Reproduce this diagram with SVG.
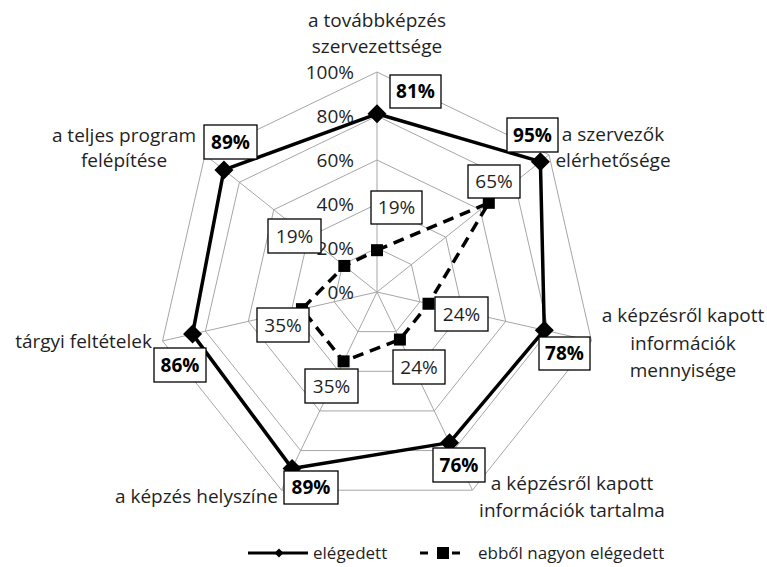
<svg xmlns="http://www.w3.org/2000/svg" width="767" height="567" viewBox="0 0 767 567">
<style>
.grid{fill:none;stroke:#a6a6a6;stroke-width:1}
.lbl{font-family:"Open Sans","Noto Sans","Liberation Sans",sans-serif;font-size:19px;fill:#1f1f1f}
.tick{font-family:"Open Sans","Noto Sans","Liberation Sans",sans-serif;font-size:19px;fill:#1f1f1f;text-anchor:end}
.dl{font-family:"Open Sans","Noto Sans","Liberation Sans",sans-serif;font-size:19px;fill:#1f1f1f;text-anchor:middle}
.dlb{font-family:"Open Sans","Noto Sans","Liberation Sans",sans-serif;font-size:19px;font-weight:bold;fill:#000;text-anchor:middle}
.box{fill:#fff;stroke:#000;stroke-width:1.3}
.solid{fill:none;stroke:#000;stroke-width:3.5;stroke-linejoin:round}
.dash{fill:none;stroke:#000;stroke-width:3.5;stroke-dasharray:11 7}
.leg{font-family:"Open Sans","Noto Sans","Liberation Sans",sans-serif;font-size:17px;fill:#1f1f1f}
</style>
<defs>
<path id="dia" d="M0,-9.5 L9.5,0 L0,9.5 L-9.5,0 Z" fill="#000"/>
<rect id="sq" x="-6" y="-6" width="12" height="12" fill="#000"/>
</defs>
<rect width="767" height="567" fill="#fff"/>
<g id="grid">
<polygon class="grid" points="377,248 411.40,264.57 419.90,301.79 396.09,331.64 357.91,331.64 334.10,301.79 342.60,264.57"/>
<polygon class="grid" points="377,204 445.80,237.13 462.79,311.58 415.18,371.29 338.82,371.29 291.21,311.58 308.20,237.13"/>
<polygon class="grid" points="377,160 480.20,209.70 505.69,321.37 434.27,410.93 319.73,410.93 248.31,321.37 273.80,209.70"/>
<polygon class="grid" points="377,116 514.60,182.27 548.59,331.16 453.36,450.57 300.64,450.57 205.41,331.16 239.40,182.27"/>
<polygon class="grid" points="377,72 549.00,154.83 591.48,340.95 472.45,490.21 281.55,490.21 162.52,340.95 205.00,154.83"/>
<path class="grid" d="M377,292 L377,72 M377,292 L549,154.83 M377,292 L591.48,340.95 M377,292 L472.45,490.21 M377,292 L281.55,490.21 M377,292 L162.52,340.95 M377,292 L205,154.83"/>
</g>
<g id="ticks">
<text class="tick" x="354" y="79">100%</text>
<text class="tick" x="354" y="123">80%</text>
<text class="tick" x="354" y="167">60%</text>
<text class="tick" x="354" y="211">40%</text>
<text class="tick" x="354" y="255">20%</text>
<text class="tick" x="354" y="299">0%</text>
</g>
<g id="connectors">
<polygon class="solid" points="377,113.8 540.40,161.69 544.30,330.18 449.55,442.64 292.05,468.41 192.54,334.10 223.92,169.92"/>
<polygon class="dash" points="377,250.2 488.80,202.84 428.48,303.75 399.91,339.57 343.59,361.37 301.93,309.13 344.32,265.94"/>
</g>
<g id="markers-elegedett">
<use href="#dia" x="377" y="113.8"/>
<use href="#dia" x="540.40" y="161.69"/>
<use href="#dia" x="544.30" y="330.18"/>
<use href="#dia" x="449.55" y="442.64"/>
<use href="#dia" x="292.05" y="468.41"/>
<use href="#dia" x="192.54" y="334.10"/>
<use href="#dia" x="223.92" y="169.92"/>
</g>
<g id="markers-nagyon">
<use href="#sq" x="377" y="250.2"/>
<use href="#sq" x="488.80" y="202.84"/>
<use href="#sq" x="428.48" y="303.75"/>
<use href="#sq" x="399.91" y="339.57"/>
<use href="#sq" x="343.59" y="361.37"/>
<use href="#sq" x="301.93" y="309.13"/>
<use href="#sq" x="344.32" y="265.94"/>
</g>
<g id="node-szervezettseg">
<text class="lbl" x="377" y="27" text-anchor="middle">a továbbképzés</text>
<text class="lbl" x="377" y="53" text-anchor="middle">szervezettsége</text>
<rect class="box" x="390" y="75" width="51" height="33"/><text class="dlb" x="415.5" y="98">81%</text>
<rect class="box" x="371" y="191" width="51" height="33"/><text class="dl" x="396.5" y="214">19%</text>
</g>
<g id="node-elerhetoseg">
<text class="lbl" x="613" y="141" text-anchor="middle">a szervezők</text>
<text class="lbl" x="613" y="167" text-anchor="middle">elérhetősége</text>
<rect class="box" x="507" y="118" width="51" height="34"/><text class="dlb" x="532.5" y="141.5">95%</text>
<rect class="box" x="468" y="165" width="52" height="33"/><text class="dl" x="494" y="188">65%</text>
</g>
<g id="node-mennyiseg">
<text class="lbl" x="683" y="322" text-anchor="middle">a képzésről kapott</text>
<text class="lbl" x="683" y="350" text-anchor="middle">információk</text>
<text class="lbl" x="683" y="377" text-anchor="middle">mennyisége</text>
<rect class="box" x="539" y="337" width="51" height="33"/><text class="dlb" x="564.5" y="360">78%</text>
<rect class="box" x="435" y="297" width="53" height="34"/><text class="dl" x="461.5" y="320.5">24%</text>
</g>
<g id="node-tartalma">
<text class="lbl" x="572" y="490" text-anchor="middle">a képzésről kapott</text>
<text class="lbl" x="572" y="517" text-anchor="middle">információk tartalma</text>
<rect class="box" x="433" y="448" width="52" height="34"/><text class="dlb" x="459" y="471.5">76%</text>
<rect class="box" x="393" y="350" width="52" height="34"/><text class="dl" x="419" y="373.5">24%</text>
</g>
<g id="node-helyszin">
<text class="lbl" x="278" y="503" text-anchor="end">a képzés helyszíne</text>
<rect class="box" x="284" y="471" width="54" height="33"/><text class="dlb" x="311" y="494">89%</text>
<rect class="box" x="305" y="369" width="53" height="34"/><text class="dl" x="331.5" y="392.5">35%</text>
</g>
<g id="node-targyi">
<text class="lbl" x="152" y="348" text-anchor="end">tárgyi feltételek</text>
<rect class="box" x="154" y="348" width="52" height="34"/><text class="dlb" x="180" y="371.5">86%</text>
<rect class="box" x="257" y="308" width="52" height="34"/><text class="dl" x="283" y="331.5">35%</text>
</g>
<g id="node-felepites">
<text class="lbl" x="124" y="142" text-anchor="middle">a teljes program</text>
<text class="lbl" x="124" y="167" text-anchor="middle">felépítése</text>
<rect class="box" x="204" y="125" width="53" height="34"/><text class="dlb" x="230.5" y="148.5">89%</text>
<rect class="box" x="268" y="219" width="53" height="34"/><text class="dl" x="294.5" y="242.5">19%</text>
</g>
<g id="legend">
<line x1="248" y1="553" x2="308" y2="553" stroke="#000" stroke-width="3"/>
<path d="M279,548.5 L283.5,553 L279,557.5 L274.5,553 Z" fill="#000"/>
<text class="leg" x="313" y="559">elégedett</text>
<line x1="420" y1="553" x2="428" y2="553" stroke="#000" stroke-width="3"/>
<rect x="437" y="547" width="12" height="12" fill="#000"/>
<line x1="452" y1="553" x2="460" y2="553" stroke="#000" stroke-width="3"/>
<text class="leg" x="478" y="559">ebből nagyon elégedett</text>
</g>
</svg>
